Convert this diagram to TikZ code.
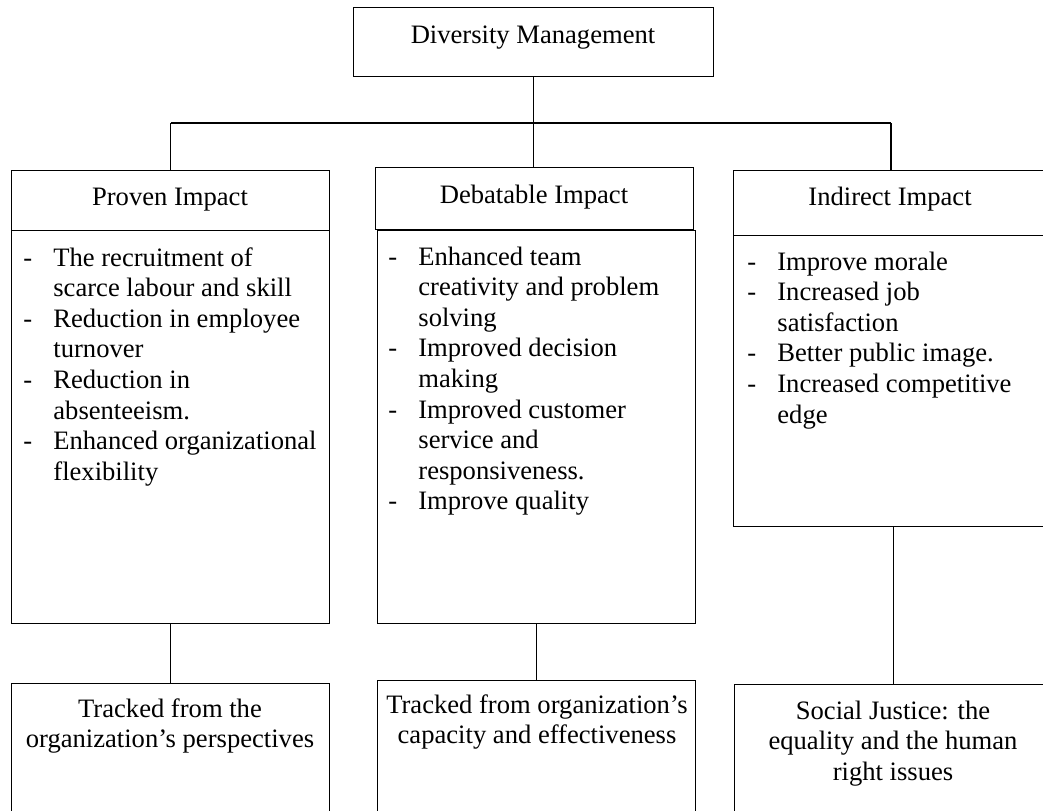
\documentclass[tikz,border=0pt]{standalone}
\usepackage{fontspec}
\setmainfont{Liberation Serif}
\newcommand{\itm}[1]{\makebox[15pt][l]{-}#1}
\newcommand{\cnt}[1]{\hspace*{15pt}#1}
\begin{document}
\begin{tikzpicture}[x=0.5pt,y=-0.5pt,
  box/.style={draw=black,line width=0.6pt,rectangle,inner sep=0pt,anchor=north west},
  conn/.style={draw=black,line width=0.8pt},
  txt/.style={inner sep=0pt,font=\fontsize{13.3pt}{15.3pt}\selectfont},
  lst/.style={txt,align=left,anchor=base west},
  ctr/.style={txt,align=center,anchor=base}]
\useasboundingbox (0,0) rectangle (1043,810);
\clip (0,0) rectangle (1043,810);
% boxes
\node[box,minimum width=180pt,minimum height=34.5pt] (dm) at (353,7) {};
\node[box,minimum width=159pt,minimum height=30pt] (ph) at (11,170) {};
\node[box,minimum width=159pt,minimum height=31pt] (dh) at (375,167) {};
\node[box,minimum width=157.5pt,minimum height=32.5pt] (ih) at (733,170) {};
\node[box,minimum width=159pt,minimum height=196.5pt] (pb) at (11,230) {};
\node[box,minimum width=159pt,minimum height=196.5pt] (db) at (377,230) {};
\node[box,minimum width=157.5pt,minimum height=145.5pt] (ib) at (733,235) {};
\node[box,minimum width=159pt,minimum height=75pt] (pf) at (11,683) {};
\node[box,minimum width=159pt,minimum height=75pt] (df) at (377,680) {};
\node[box,minimum width=159pt,minimum height=75pt] (if) at (734,684) {};
% texts (base anchor = baseline of the last line)
\node[ctr] (dmt) at (533,43) {Diversity Management};
\node[ctr] (pht) at (170,205) {Proven Impact};
\node[ctr] (dht) at (534,203) {Debatable Impact};
\node[ctr] (iht) at (890,205) {Indirect Impact};
\node[lst] (pbt) at (23,480.2) {\itm{The recruitment of}\\\cnt{scarce labour and skill}\\\itm{Reduction in employee}\\\cnt{turnover}\\\itm{Reduction in}\\\cnt{absenteeism.}\\\itm{Enhanced organizational}\\\cnt{flexibility}};
\node[lst] (dbt) at (388,509.8) {\itm{Enhanced team}\\\cnt{creativity and problem}\\\cnt{solving}\\\itm{Improved decision}\\\cnt{making}\\\itm{Improved customer}\\\cnt{service and}\\\cnt{responsiveness.}\\\itm{Improve quality}};
\node[lst] (ibt) at (747,423) {\itm{Improve morale}\\\itm{Increased job}\\\cnt{satisfaction}\\\itm{Better public image.}\\\itm{Increased competitive}\\\cnt{edge}};
\node[ctr] (pft) at (170,747.6) {Tracked from the\\organization’s perspectives};
\node[ctr] (dft) at (537,743.6) {Tracked from organization’s\\capacity and effectiveness};
\node[ctr] (ift) at (893,780.2) {Social Justice: the\\equality and the human\\right issues};
% connectors
\coordinate (bus) at (533,123);
\draw[conn] (dm.south) -- (dm.south |- dh.north);
\draw[conn,line width=1pt] (ph.north |- bus) -- (ih.north |- bus);
\draw[conn] (ph.north |- bus) -- (ph.north);
\draw[conn] (ih.north |- bus) -- (ih.north);
\draw[conn] (pb.south) -- (pf.north);
\draw[conn] (db.south) -- (df.north);
\draw[conn] (if.north |- ib.south) -- (if.north);
\end{tikzpicture}
\end{document}
